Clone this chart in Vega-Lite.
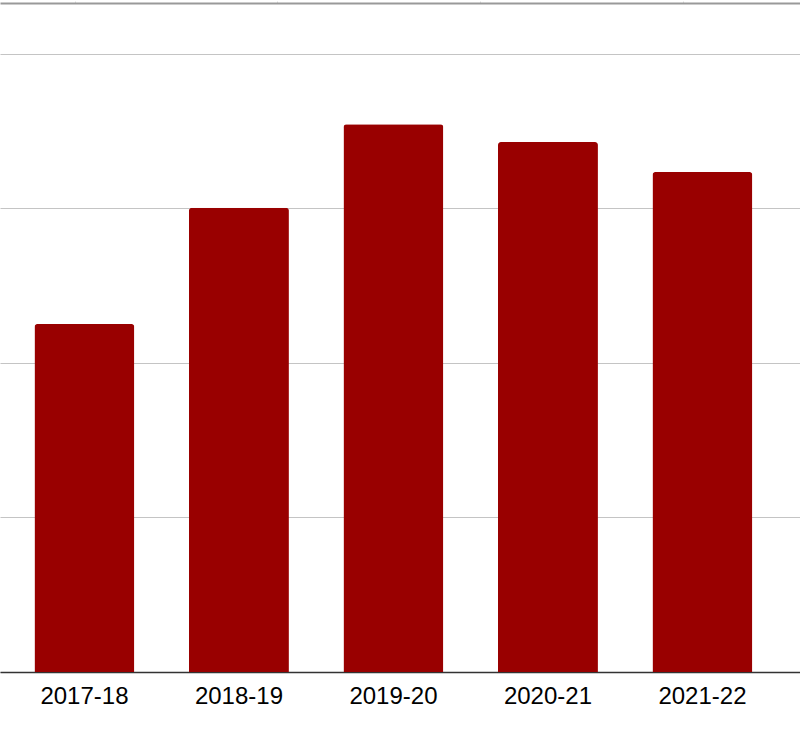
{
  "$schema": "https://vega.github.io/schema/vega-lite/v6.json",
  "width": 800,
  "height": 669,
  "autosize": {"type": "none"},
  "padding": {"left": 0, "top": 3, "right": 0, "bottom": 74},
  "background": "white",
  "config": {"view": {"stroke": null}},
  "layer": [
    {
      "data": {"values": [
        {"year": "2017-18", "value": 112.6},
        {"year": "2018-19", "value": 150.2},
        {"year": "2019-20", "value": 177.3},
        {"year": "2020-21", "value": 171.5},
        {"year": "2021-22", "value": 161.8}
      ]},
      "mark": {"type": "bar", "color": "#990000", "cornerRadiusTopLeft": 3, "cornerRadiusTopRight": 3},
      "encoding": {
        "x": {
          "field": "year", "type": "nominal", "sort": null,
          "scale": {"paddingInner": 0.3528, "paddingOuter": 0.2654, "align": 0.42},
          "axis": {
            "title": null, "labelAngle": 0, "ticks": false, "grid": false,
            "domain": true, "domainColor": "#333333", "domainWidth": 1.5,
            "labelFont": "Liberation Sans", "labelFontSize": 24, "labelColor": "#000000",
            "labelPadding": 12
          }
        },
        "y": {
          "field": "value", "type": "quantitative",
          "scale": {"domain": [0, 216.5], "nice": false},
          "axis": {
            "title": null, "labels": false, "ticks": false, "domain": false,
            "values": [0, 50, 100, 150, 200],
            "grid": true, "gridColor": "#c4c4c4", "gridWidth": 1.2
          }
        }
      }
    },
    {
      "data": {"values": [{"t": 0}, {"t": 3}]},
      "mark": {"type": "point", "opacity": 0},
      "encoding": {
        "x": {
          "field": "t", "type": "quantitative",
          "scale": {"domain": [-0.37, 3.58], "nice": false, "zero": false},
          "axis": {
            "orient": "top", "title": null, "labels": false, "grid": false,
            "values": [0, 1, 2, 3],
            "ticks": true, "tickColor": "#dddddd", "tickSize": 2, "tickWidth": 1,
            "domain": true, "domainColor": "#999999", "domainWidth": 2
          }
        }
      }
    }
  ],
  "resolve": {"scale": {"x": "independent"}, "axis": {"x": "independent"}}
}
